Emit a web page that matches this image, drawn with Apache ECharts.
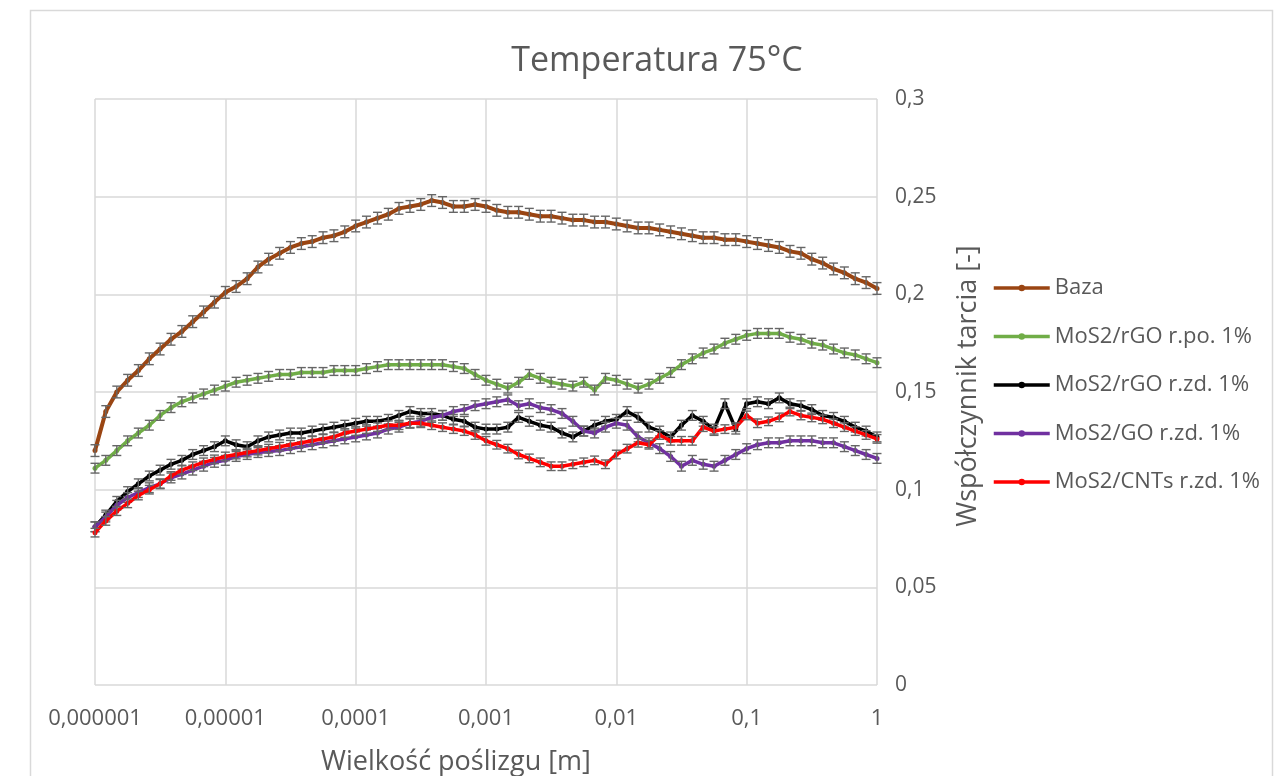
<!DOCTYPE html>
<html>
<head>
<meta charset="utf-8">
<script src="https://cdn.jsdelivr.net/npm/echarts@6/dist/echarts.min.js"></script>
<style>
html,body{margin:0;padding:0;background:#fff;}
#chart{width:1280px;height:776px;}
</style>
</head>
<body>
<div id="chart"></div>
<script>
// Slip distance [m] (x values, log-spaced samples)
const xVals = [
  1e-6,1.21e-6,1.47e-6,1.78e-6,2.15e-6,2.61e-6,3.16e-6,3.83e-6,4.64e-6,5.62e-6,6.81e-6,8.25e-6,
  1e-5,1.21e-5,1.47e-5,1.78e-5,2.15e-5,2.61e-5,3.16e-5,3.83e-5,4.64e-5,5.62e-5,6.81e-5,8.25e-5,
  1e-4,1.21e-4,1.47e-4,1.78e-4,2.15e-4,2.61e-4,3.16e-4,3.83e-4,4.64e-4,5.62e-4,6.81e-4,8.25e-4,
  1e-3,1.21e-3,1.47e-3,1.78e-3,2.15e-3,2.61e-3,3.16e-3,3.83e-3,4.64e-3,5.62e-3,6.81e-3,8.25e-3,
  1e-2,1.21e-2,1.47e-2,1.78e-2,2.15e-2,2.61e-2,3.16e-2,3.83e-2,4.64e-2,5.62e-2,6.81e-2,8.25e-2,
  1e-1,1.21e-1,1.47e-1,1.78e-1,2.15e-1,2.61e-1,3.16e-1,3.83e-1,4.64e-1,5.62e-1,6.81e-1,8.25e-1,
  1
];

const seriesNames = ['Baza','MoS2/rGO r.po. 1%','MoS2/rGO r.zd. 1%','MoS2/GO r.zd. 1%','MoS2/CNTs r.zd. 1%'];

const baza = [
  0.120,0.140,0.150,0.156,0.161,0.167,0.172,0.177,0.181,0.186,0.191,0.196,
  0.201,0.204,0.208,0.214,0.218,0.221,0.224,0.226,0.227,0.229,0.230,0.232,
  0.235,0.237,0.239,0.241,0.244,0.245,0.246,0.248,0.247,0.245,0.245,0.246,
  0.245,0.243,0.242,0.242,0.241,0.240,0.240,0.239,0.238,0.238,0.237,0.237,
  0.236,0.235,0.234,0.234,0.233,0.232,0.231,0.230,0.229,0.229,0.228,0.228,
  0.227,0.226,0.225,0.224,0.222,0.221,0.218,0.216,0.213,0.211,0.208,0.206,
  0.203
];
const rgoPo = [
  0.111,0.115,0.120,0.125,0.129,0.133,0.138,0.142,0.145,0.147,0.149,0.151,
  0.153,0.155,0.156,0.157,0.158,0.159,0.159,0.160,0.160,0.160,0.161,0.161,
  0.161,0.162,0.163,0.164,0.164,0.164,0.164,0.164,0.164,0.163,0.162,0.159,
  0.156,0.154,0.152,0.155,0.159,0.157,0.155,0.154,0.153,0.155,0.151,0.157,
  0.156,0.154,0.152,0.154,0.157,0.160,0.164,0.167,0.170,0.172,0.175,0.177,
  0.179,0.180,0.180,0.180,0.178,0.177,0.175,0.174,0.172,0.170,0.169,0.167,
  0.165
];
const rgoZd = [
  0.081,0.087,0.094,0.099,0.103,0.107,0.110,0.113,0.115,0.118,0.120,0.122,
  0.125,0.123,0.122,0.125,0.127,0.128,0.129,0.129,0.130,0.131,0.132,0.133,
  0.134,0.135,0.135,0.136,0.138,0.140,0.139,0.139,0.138,0.136,0.135,0.132,
  0.131,0.131,0.132,0.137,0.135,0.133,0.132,0.129,0.127,0.130,0.133,0.135,
  0.136,0.140,0.137,0.132,0.130,0.127,0.133,0.138,0.135,0.131,0.144,0.131,
  0.144,0.145,0.144,0.147,0.144,0.143,0.141,0.138,0.137,0.135,0.132,0.130,
  0.127
];
const goZd = [
  0.081,0.086,0.092,0.096,0.0985,0.101,0.103,0.106,0.108,0.110,0.112,0.114,
  0.115,0.117,0.118,0.119,0.1195,0.120,0.121,0.122,0.123,0.124,0.125,0.126,
  0.127,0.128,0.129,0.131,0.132,0.134,0.135,0.137,0.138,0.140,0.141,0.143,
  0.144,0.145,0.146,0.143,0.144,0.142,0.141,0.139,0.135,0.130,0.129,0.132,
  0.134,0.133,0.127,0.124,0.121,0.117,0.112,0.115,0.113,0.112,0.115,0.118,
  0.121,0.123,0.124,0.124,0.125,0.125,0.125,0.124,0.124,0.122,0.120,0.118,
  0.116
];
const cntsZd = [
  0.078,0.084,0.089,0.093,0.097,0.100,0.103,0.107,0.110,0.112,0.114,0.1155,
  0.117,0.118,0.119,0.120,0.121,0.122,0.123,0.124,0.125,0.126,0.127,0.129,
  0.130,0.131,0.132,0.133,0.133,0.134,0.134,0.133,0.132,0.131,0.130,0.128,
  0.125,0.123,0.121,0.118,0.116,0.114,0.112,0.112,0.113,0.114,0.115,0.113,
  0.118,0.121,0.124,0.123,0.128,0.125,0.125,0.125,0.132,0.130,0.131,0.132,
  0.138,0.134,0.135,0.137,0.140,0.138,0.137,0.136,0.134,0.132,0.130,0.128,
  0.126
];
// error bar half-ranges (constant per series)
const errHalf = [0.003, 0.0025, 0.0025, 0.0025, 0.0022];

const yTicks = [0, 0.05, 0.1, 0.15, 0.2, 0.25, 0.3];

const allValues = [baza, rgoPo, rgoZd, goZd, cntsZd];
const colors = ['#9A4512', '#70AD47', '#000000', '#7030A0', '#FF0000'];
const errColor = '#666666';
const FONT = '"Open Sans", "Noto Sans", sans-serif';
const TXT = '#595959';

function fmtX(v) {
  const e = Math.round(Math.log10(v));
  if (e >= 0) return '1';
  return '0,' + '0'.repeat(-e - 1) + '1';
}
function fmtY(v) {
  const r = +v.toFixed(2);
  return r === 0 ? '0' : String(r).replace('.', ',');
}

function errRender(params, api) {
  const x = api.value(0);
  const top = api.coord([x, api.value(2)]);
  const bot = api.coord([x, api.value(1)]);
  const hw = 4.5;
  const st = { stroke: errColor, lineWidth: 1.4 };
  return {
    type: 'group',
    children: [
      { type: 'line', shape: { x1: top[0], y1: top[1], x2: bot[0], y2: bot[1] }, style: st },
      { type: 'line', shape: { x1: top[0] - hw, y1: top[1], x2: top[0] + hw, y2: top[1] }, style: st },
      { type: 'line', shape: { x1: bot[0] - hw, y1: bot[1], x2: bot[0] + hw, y2: bot[1] }, style: st }
    ]
  };
}

const series = [];
allValues.forEach((vals, k) => {
  series.push({
    name: seriesNames[k],
    type: 'line',
    data: xVals.map((x, i) => [x, vals[i]]),
    showSymbol: true,
    symbol: 'circle',
    symbolSize: 5,
    lineStyle: { color: colors[k], width: k === 0 ? 4 : 3.5 },
    itemStyle: { color: colors[k] },
    z: 2 + 2 * k,
    animation: false
  });
  series.push({
    name: 'err' + k,
    type: 'custom',
    renderItem: errRender,
    data: xVals.map((x, i) => [x, vals[i] - errHalf[k], vals[i] + errHalf[k]]),
    encode: { x: 0, y: [1, 2] },
    z: 3 + 2 * k,
    silent: true,
    animation: false
  });
});

const chart = echarts.init(document.getElementById('chart'), null, { renderer: 'canvas' });
chart.setOption({
  backgroundColor: '#ffffff',
  animation: false,
  title: {
    text: 'Temperatura 75°C',
    left: 652,
    top: 39,
    textAlign: 'center',
    textStyle: { fontFamily: FONT, fontSize: 34, fontWeight: 'normal', color: TXT }
  },
  grid: { left: 95, right: 403, top: 99, bottom: 91, containLabel: false },
  legend: {
    data: seriesNames,
    orient: 'vertical',
    left: 987,
    top: 270,
    itemWidth: 56,
    itemHeight: 8,
    itemGap: 22.5,
    lineStyle: { width: 3.5 },
    textStyle: { fontFamily: FONT, fontSize: 22, color: TXT, lineHeight: 26 }
  },
  xAxis: {
    type: 'log',
    logBase: 10,
    min: 1e-6,
    max: 1,
    splitNumber: 6,
    axisLine: { show: false },
    axisTick: { show: false },
    axisLabel: { formatter: fmtX, fontFamily: FONT, fontSize: 22, color: TXT, margin: 23 },
    splitLine: { show: true, lineStyle: { color: '#d9d9d9', width: 1.5 } }
  },
  yAxis: {
    type: 'value',
    position: 'right',
    min: yTicks[0],
    max: yTicks[yTicks.length - 1],
    interval: 0.05,
    axisLine: { show: false },
    axisTick: { show: false },
    axisLabel: { formatter: fmtY, fontFamily: FONT, fontSize: 21, color: TXT, margin: 18 },
    splitLine: { show: true, lineStyle: { color: '#d9d9d9', width: 1.5 } }
  },
  graphic: [
    {
      type: 'rect',
      shape: { x: 30.5, y: 10.5, width: 1242, height: 800 },
      style: { fill: null, stroke: '#d9d9d9', lineWidth: 1.5 },
      silent: true
    },
    {
      type: 'text',
      x: 456, y: 762,
      style: { text: 'Wielkość poślizgu [m]', font: '27px ' + FONT, fill: TXT, align: 'center', verticalAlign: 'middle' }
    },
    {
      type: 'text',
      x: 968, y: 386,
      rotation: Math.PI / 2,
      style: { text: 'Współczynnik tarcia [-]', font: '27px ' + FONT, fill: TXT, align: 'center', verticalAlign: 'middle' }
    }
  ],
  series: series
});
</script>
</body>
</html>
